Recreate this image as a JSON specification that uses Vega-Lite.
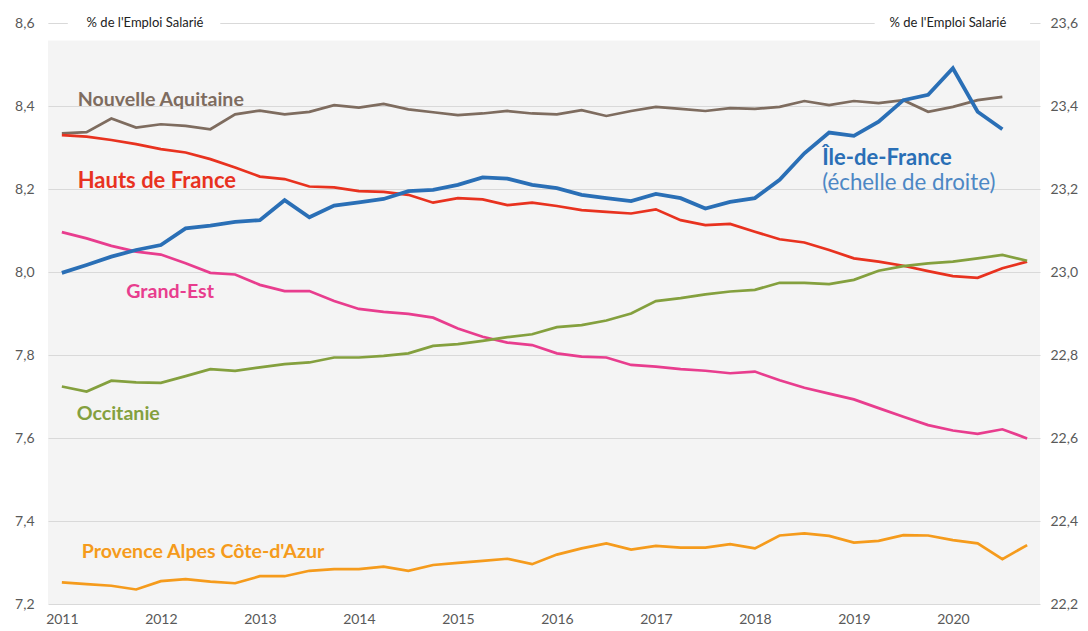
{
  "$schema": "https://vega.github.io/schema/vega-lite/v6.json",
  "width": 992,
  "height": 581,
  "autosize": "none",
  "padding": {"left": 48, "top": 23, "right": 48, "bottom": 27},
  "background": "white",
  "config": {
    "view": {"fill": "#f4f4f4", "stroke": null},
    "font": "Lato",
    "locale": {"number": {"decimal": ",", "thousands": " ", "grouping": [3], "currency": ["", " €"]}},
    "axis": {"labelFont": "Lato", "labelFontSize": 14, "labelColor": "#595959", "domain": false, "ticks": false, "title": null}
  },
  "data": {
    "values": [
      {"t": 2011.00, "na": 8.334, "hdf": 8.330, "ge": 8.096, "occ": 7.724, "paca": 7.252, "idf": 22.998},
      {"t": 2011.25, "na": 8.337, "hdf": 8.326, "ge": 8.081, "occ": 7.712, "paca": 7.248, "idf": 23.017},
      {"t": 2011.50, "na": 8.370, "hdf": 8.318, "ge": 8.063, "occ": 7.738, "paca": 7.244, "idf": 23.037},
      {"t": 2011.75, "na": 8.348, "hdf": 8.308, "ge": 8.049, "occ": 7.734, "paca": 7.235, "idf": 23.053},
      {"t": 2012.00, "na": 8.356, "hdf": 8.296, "ge": 8.042, "occ": 7.733, "paca": 7.255, "idf": 23.065},
      {"t": 2012.25, "na": 8.352, "hdf": 8.288, "ge": 8.021, "occ": 7.749, "paca": 7.260, "idf": 23.105},
      {"t": 2012.50, "na": 8.344, "hdf": 8.272, "ge": 7.998, "occ": 7.766, "paca": 7.254, "idf": 23.112},
      {"t": 2012.75, "na": 8.380, "hdf": 8.252, "ge": 7.994, "occ": 7.762, "paca": 7.250, "idf": 23.121},
      {"t": 2013.00, "na": 8.389, "hdf": 8.230, "ge": 7.969, "occ": 7.770, "paca": 7.267, "idf": 23.125},
      {"t": 2013.25, "na": 8.380, "hdf": 8.224, "ge": 7.954, "occ": 7.778, "paca": 7.267, "idf": 23.173},
      {"t": 2013.50, "na": 8.386, "hdf": 8.206, "ge": 7.954, "occ": 7.782, "paca": 7.280, "idf": 23.132},
      {"t": 2013.75, "na": 8.402, "hdf": 8.204, "ge": 7.930, "occ": 7.794, "paca": 7.284, "idf": 23.160},
      {"t": 2014.00, "na": 8.396, "hdf": 8.195, "ge": 7.911, "occ": 7.794, "paca": 7.284, "idf": 23.168},
      {"t": 2014.25, "na": 8.405, "hdf": 8.193, "ge": 7.904, "occ": 7.798, "paca": 7.290, "idf": 23.176},
      {"t": 2014.50, "na": 8.392, "hdf": 8.186, "ge": 7.899, "occ": 7.804, "paca": 7.280, "idf": 23.195},
      {"t": 2014.75, "na": 8.385, "hdf": 8.167, "ge": 7.890, "occ": 7.822, "paca": 7.294, "idf": 23.198},
      {"t": 2015.00, "na": 8.378, "hdf": 8.178, "ge": 7.864, "occ": 7.826, "paca": 7.299, "idf": 23.210},
      {"t": 2015.25, "na": 8.382, "hdf": 8.175, "ge": 7.844, "occ": 7.834, "paca": 7.304, "idf": 23.228},
      {"t": 2015.50, "na": 8.388, "hdf": 8.161, "ge": 7.830, "occ": 7.843, "paca": 7.309, "idf": 23.225},
      {"t": 2015.75, "na": 8.382, "hdf": 8.167, "ge": 7.824, "occ": 7.850, "paca": 7.296, "idf": 23.210},
      {"t": 2016.00, "na": 8.380, "hdf": 8.159, "ge": 7.804, "occ": 7.867, "paca": 7.319, "idf": 23.202},
      {"t": 2016.25, "na": 8.390, "hdf": 8.149, "ge": 7.796, "occ": 7.872, "paca": 7.334, "idf": 23.186},
      {"t": 2016.50, "na": 8.376, "hdf": 8.145, "ge": 7.794, "occ": 7.883, "paca": 7.346, "idf": 23.178},
      {"t": 2016.75, "na": 8.388, "hdf": 8.141, "ge": 7.776, "occ": 7.900, "paca": 7.331, "idf": 23.171},
      {"t": 2017.00, "na": 8.398, "hdf": 8.151, "ge": 7.772, "occ": 7.930, "paca": 7.340, "idf": 23.188},
      {"t": 2017.25, "na": 8.393, "hdf": 8.125, "ge": 7.766, "occ": 7.937, "paca": 7.336, "idf": 23.178},
      {"t": 2017.50, "na": 8.388, "hdf": 8.113, "ge": 7.762, "occ": 7.946, "paca": 7.336, "idf": 23.153},
      {"t": 2017.75, "na": 8.395, "hdf": 8.116, "ge": 7.756, "occ": 7.953, "paca": 7.344, "idf": 23.169},
      {"t": 2018.00, "na": 8.393, "hdf": 8.097, "ge": 7.760, "occ": 7.957, "paca": 7.334, "idf": 23.178},
      {"t": 2018.25, "na": 8.398, "hdf": 8.079, "ge": 7.739, "occ": 7.974, "paca": 7.365, "idf": 23.222},
      {"t": 2018.50, "na": 8.412, "hdf": 8.071, "ge": 7.721, "occ": 7.974, "paca": 7.370, "idf": 23.286},
      {"t": 2018.75, "na": 8.402, "hdf": 8.053, "ge": 7.707, "occ": 7.971, "paca": 7.364, "idf": 23.336},
      {"t": 2019.00, "na": 8.412, "hdf": 8.033, "ge": 7.693, "occ": 7.981, "paca": 7.348, "idf": 23.328},
      {"t": 2019.25, "na": 8.407, "hdf": 8.025, "ge": 7.672, "occ": 8.003, "paca": 7.352, "idf": 23.362},
      {"t": 2019.50, "na": 8.414, "hdf": 8.015, "ge": 7.651, "occ": 8.014, "paca": 7.366, "idf": 23.414},
      {"t": 2019.75, "na": 8.386, "hdf": 8.002, "ge": 7.631, "occ": 8.021, "paca": 7.365, "idf": 23.427},
      {"t": 2020.00, "na": 8.398, "hdf": 7.990, "ge": 7.618, "occ": 8.025, "paca": 7.354, "idf": 23.491},
      {"t": 2020.25, "na": 8.414, "hdf": 7.986, "ge": 7.610, "occ": 8.033, "paca": 7.346, "idf": 23.386},
      {"t": 2020.50, "na": 8.422, "hdf": 8.009, "ge": 7.621, "occ": 8.041, "paca": 7.308, "idf": 23.344},
      {"t": 2020.75, "na": null, "hdf": 8.025, "ge": 7.599, "occ": 8.027, "paca": 7.342, "idf": null}
    ]
  },
  "layer": [
    {
      "layer": [
        {
          "data": {"values": [
            {"x": 2010.80, "x2": 2020.95, "y": 8.5975, "y2": 8.558}
          ]},
          "mark": {"type": "rect", "fill": "white"},
          "encoding": {
            "x": {"field": "x", "type": "quantitative"},
            "x2": {"field": "x2"},
            "y": {"field": "y", "type": "quantitative"},
            "y2": {"field": "y2"}
          }
        },
        {
          "mark": {"type": "line", "strokeWidth": 2.7, "interpolate": "linear"},
          "transform": [{"fold": ["na", "hdf", "ge", "occ", "paca"], "as": ["key", "v"]}],
          "encoding": {
            "x": {"field": "t", "type": "quantitative", "scale": {"domain": [2010.86, 2020.88], "nice": false, "zero": false},
                  "axis": {"values": [2011, 2012, 2013, 2014, 2015, 2016, 2017, 2018, 2019, 2020], "format": "d", "grid": false, "labelPadding": 8}},
            "y": {"field": "v", "type": "quantitative", "scale": {"domain": [7.2, 8.6], "nice": false, "zero": false},
                  "axis": {"values": [7.2, 7.4, 7.6, 7.8, 8.0, 8.2, 8.4, 8.6], "format": ".1f", "grid": true, "gridColor": "#d9d9d9", "gridWidth": 1, "labelPadding": 14}},
            "color": {"field": "key", "type": "nominal", "legend": null,
                      "scale": {"domain": ["na", "hdf", "ge", "occ", "paca", "idf", "idf2"], "range": ["#7e6c5f", "#e8321f", "#e83d8e", "#84a03e", "#f59b1c", "#2a6fb6", "#4d87c4"]}},
            "detail": {"field": "key"}
          }
        },
        {
          "data": {"values": [
            {"x": 2011.06, "x2": 2012.6, "y": 8.636, "y2": 8.564},
            {"x": 2019.21, "x2": 2020.78, "y": 8.636, "y2": 8.564}
          ]},
          "mark": {"type": "rect", "fill": "white"},
          "encoding": {
            "x": {"field": "x", "type": "quantitative"},
            "x2": {"field": "x2"},
            "y": {"field": "y", "type": "quantitative"},
            "y2": {"field": "y2"}
          }
        },
        {
          "data": {"values": [
            {"label": "% de l'Emploi Salarié", "x": 2011.84, "y": 8.600},
            {"label": "% de l'Emploi Salarié", "x": 2019.95, "y": 8.600}
          ]},
          "mark": {"type": "text", "align": "center", "baseline": "middle", "font": "Lato", "fontSize": 13, "color": "#222222"},
          "encoding": {
            "x": {"field": "x", "type": "quantitative"},
            "y": {"field": "y", "type": "quantitative"},
            "text": {"field": "label"}
          }
        },
        {
          "data": {"values": [
            {"label": "Nouvelle Aquitaine", "key": "na", "x": 2011.16, "y": 8.414},
            {"label": "Grand-Est", "key": "ge", "x": 2011.65, "y": 7.952},
            {"label": "Occitanie", "key": "occ", "x": 2011.15, "y": 7.658},
            {"label": "Provence Alpes Côte-d'Azur", "key": "paca", "x": 2011.2, "y": 7.325}
          ]},
          "mark": {"type": "text", "align": "left", "baseline": "middle", "font": "Lato", "fontWeight": "bold", "fontSize": 19.6},
          "encoding": {
            "x": {"field": "x", "type": "quantitative"},
            "y": {"field": "y", "type": "quantitative"},
            "text": {"field": "label"},
            "color": {"field": "key", "type": "nominal", "legend": null}
          }
        },
        {
          "data": {"values": [
            {"label": "Hauts de France", "key": "hdf", "x": 2011.16, "y": 8.219},
            {"label": "Île-de-France", "key": "idf", "x": 2018.68, "y": 8.275}
          ]},
          "mark": {"type": "text", "align": "left", "baseline": "middle", "font": "Lato", "fontWeight": "bold", "fontSize": 22},
          "encoding": {
            "x": {"field": "x", "type": "quantitative"},
            "y": {"field": "y", "type": "quantitative"},
            "text": {"field": "label"},
            "color": {"field": "key", "type": "nominal", "legend": null}
          }
        },
        {
          "data": {"values": [
            {"label": "(échelle de droite)", "key": "idf2", "x": 2018.68, "y": 8.215}
          ]},
          "mark": {"type": "text", "align": "left", "baseline": "middle", "font": "Lato", "fontSize": 22.3},
          "encoding": {
            "x": {"field": "x", "type": "quantitative"},
            "y": {"field": "y", "type": "quantitative"},
            "text": {"field": "label"},
            "color": {"field": "key", "type": "nominal", "legend": null}
          }
        }
      ]
    },
    {
      "mark": {"type": "line", "strokeWidth": 3.8, "color": "#2a6fb6"},
      "encoding": {
        "x": {"field": "t", "type": "quantitative"},
        "y": {"field": "idf", "type": "quantitative", "scale": {"domain": [22.2, 23.6], "nice": false, "zero": false},
              "axis": {"orient": "right", "values": [22.2, 22.4, 22.6, 22.8, 23.0, 23.2, 23.4, 23.6], "format": ".1f", "grid": false, "labelPadding": 10}}
      }
    }
  ],
  "resolve": {"scale": {"y": "independent"}}
}
